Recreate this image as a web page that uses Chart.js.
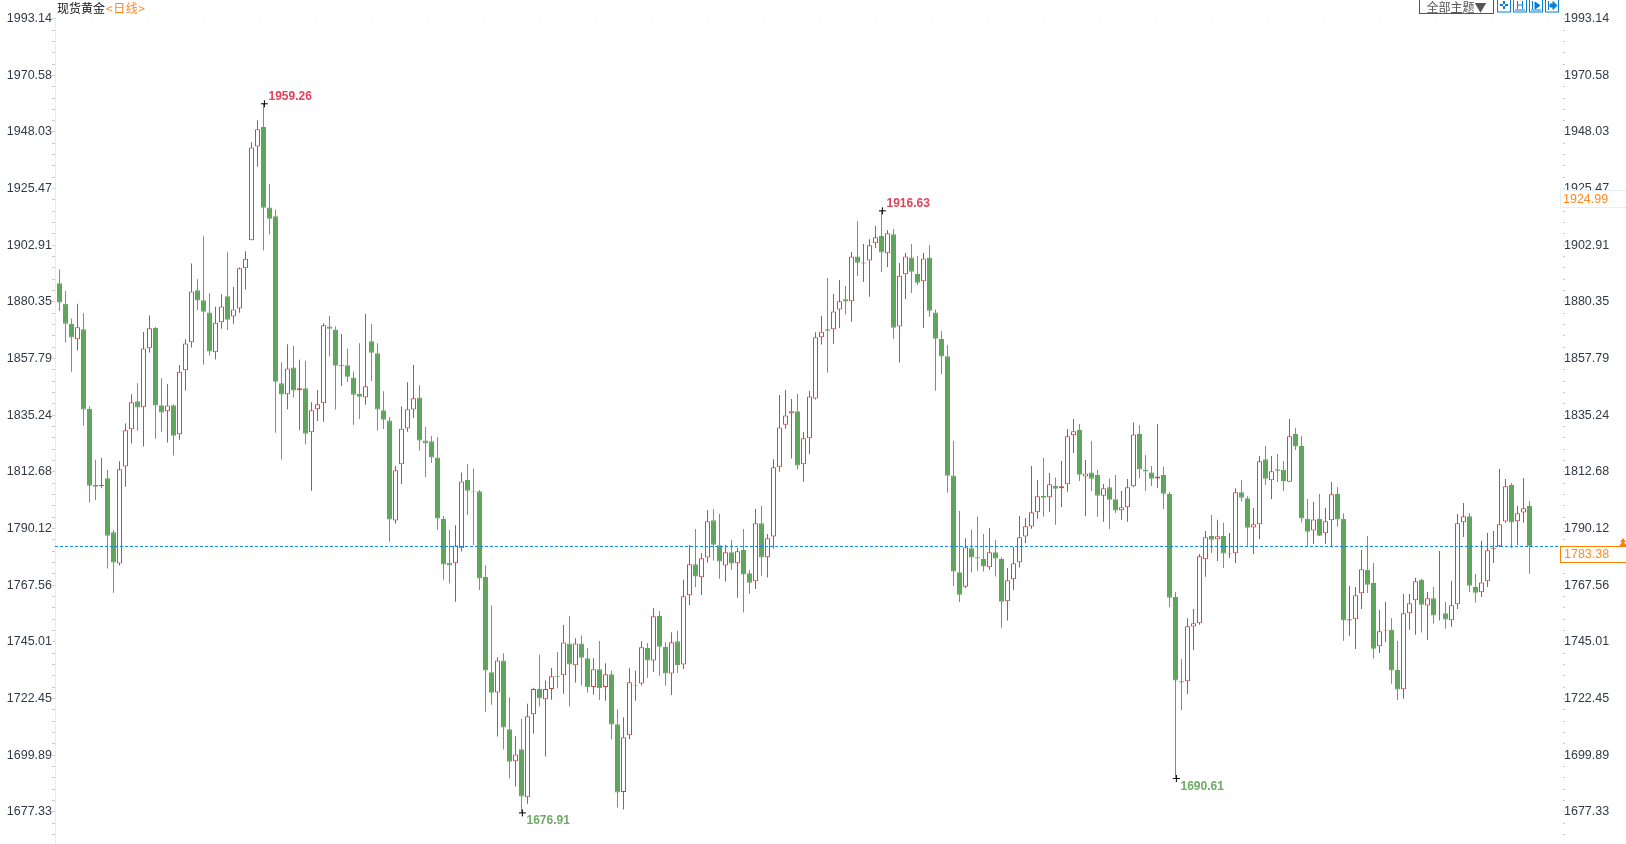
<!DOCTYPE html>
<html>
<head>
<meta charset="utf-8">
<title>现货黄金</title>
<script src="https://cdn.jsdelivr.net/npm/chart.js@4/dist/chart.umd.min.js"></script>
<style>
	body { margin: 0; background: #fff; overflow: hidden; }
	#wrap { position: relative; width: 1626px; height: 844px; overflow: hidden; }
	#title { position: absolute; left: 57px; top: 0; font: 12px/15px "Noto Sans CJK SC", sans-serif; color: #111; white-space: nowrap; }
	#title span { color: #ff8a1e; margin-left: 1px; letter-spacing: 0.5px; }
	#theme { position: absolute; left: 1419px; top: -3px; width: 73px; height: 15px; border: 1px solid #555; font: 12px/17px "Noto Sans CJK SC", sans-serif; color: #555; text-align: center; }
	.tool { position: absolute; top: -2px; }
</style>
</head>
<body>
<div id="wrap">
	<canvas id="chart" width="1626" height="844"></canvas>
	<div id="title">现货黄金<span>&lt;日线&gt;</span></div>
	<div id="theme">全部主题▼</div>
	<svg class="tool" style="left:1497px" width="14" height="15" fill="none" stroke="#0a7fd0"><rect x=".5" y=".5" width="13" height="13.5"/><path d="M7 3v3M7 8v3M3 7h3M8 7h3" stroke-width="2"/></svg>
	<svg class="tool" style="left:1513px" width="14" height="15" fill="none" stroke="#0a7fd0"><rect x=".5" y=".5" width="13" height="13.5"/><path d="M4.5 3v8M9.5 3v8M5 7h4M2 12h10"/></svg>
	<svg class="tool" style="left:1529px" width="14" height="15" fill="none" stroke="#0a7fd0"><rect x=".5" y=".5" width="13" height="13.5"/><path d="M3.5 3v8M2 12h10"/><path d="M6 4l5 3.500-5 3.500z" fill="#0a7fd0"/></svg>
	<svg class="tool" style="left:1545px" width="14" height="15" fill="none" stroke="#0a7fd0"><rect x=".5" y=".5" width="13" height="13.500"/><path d="M3.500 3v9"/><path d="M5 6h3V3.500L12 7.500 8 11.500V9H5z" fill="#0a7fd0"/></svg>
</div>
<script>
const tickLabels = ['1993.14', '1970.58', '1948.03', '1925.47', '1902.91', '1880.35', '1857.79', '1835.24', '1812.68', '1790.12', '1767.56', '1745.01', '1722.45', '1699.89', '1677.33'];

const opens = [
	1887.8, 1879.6, 1871.6, 1865.5, 1869.5, 1837.8, 1807.5, 1807.1, 1810.2, 1788.7,
	1776.2, 1814.8, 1829.7, 1840.8, 1838.4, 1861.9, 1870.0, 1839.2, 1836.8, 1839.2,
	1827.7, 1853.2, 1864.3, 1885.0, 1881.0, 1876.2, 1860.3, 1872.3, 1882.6, 1874.6,
	1877.8, 1893.8, 1904.9, 1942.3, 1950.0, 1918.0, 1914.5, 1848.0, 1843.6, 1854.3,
	1845.2, 1846.0, 1828.5, 1837.6, 1840.0, 1870.6, 1869.4, 1854.8, 1855.2, 1850.3,
	1843.7, 1842.3, 1864.7, 1859.9, 1837.2, 1833.2, 1793.3, 1815.7, 1830.0, 1837.5,
	1842.3, 1825.2, 1824.9, 1818.4, 1793.9, 1776.5, 1776.3, 1782.3, 1809.5, 1805.0,
	1805.0, 1770.9, 1732.9, 1724.9, 1737.6, 1710.2, 1697.5, 1702.3, 1683.1, 1716.2,
	1726.2, 1722.2, 1726.2, 1731.4, 1731.7, 1744.4, 1735.7, 1744.4, 1738.5, 1727.0,
	1734.1, 1727.0, 1732.1, 1712.2, 1685.2, 1707.8, 1727.6, 1728.4, 1742.6, 1737.6,
	1755.3, 1743.0, 1732.4, 1745.3, 1736.0, 1763.6, 1775.9, 1770.7, 1778.6, 1793.4,
	1783.5, 1775.4, 1780.7, 1776.3, 1781.6, 1772.3, 1769.1, 1792.2, 1778.7, 1787.0,
	1814.5, 1831.5, 1835.9, 1836.8, 1815.7, 1826.1, 1841.9, 1866.3, 1869.5, 1869.5,
	1877.4, 1881.4, 1880.6, 1898.5, 1895.7, 1896.9, 1903.7, 1906.6, 1899.7, 1907.3,
	1870.6, 1891.4, 1898.1, 1891.5, 1888.6, 1898.1, 1876.2, 1865.6, 1858.7, 1811.3,
	1772.7, 1767.0, 1782.3, 1778.7, 1778.0, 1774.7, 1780.7, 1778.0, 1761.2, 1769.9,
	1776.7, 1787.0, 1790.9, 1796.6, 1803.1, 1802.6, 1807.1, 1806.2, 1807.8, 1827.3,
	1829.4, 1810.9, 1812.5, 1811.5, 1803.2, 1806.6, 1801.8, 1797.4, 1798.6, 1807.0,
	1827.8, 1813.5, 1812.5, 1810.1, 1811.5, 1803.9, 1762.9, 1729.3, 1729.3, 1751.1,
	1752.4, 1777.9, 1787.2, 1785.9, 1787.2, 1780.2, 1780.3, 1804.6, 1802.2, 1790.6,
	1791.8, 1817.7, 1809.4, 1813.7, 1813.5, 1808.8, 1827.8, 1823.0, 1794.0, 1789.4,
	1794.0, 1788.3, 1793.4, 1803.9, 1794.0, 1753.5, 1754.0, 1764.4, 1773.7, 1768.5,
	1743.3, 1749.5, 1749.8, 1733.8, 1726.1, 1756.4, 1761.6, 1769.7, 1759.5, 1762.4,
	1756.4, 1756.4, 1753.6, 1760.0, 1792.6, 1795.0, 1766.9, 1764.8, 1769.1, 1781.9,
	1783.1, 1792.9, 1807.5, 1793.0, 1796.5, 1799.1
];

const closes = [
	1880.1, 1871.7, 1866.2, 1870.3, 1837.5, 1807.2, 1806.8, 1807.5, 1787.3, 1776.6,
	1813.7, 1829.3, 1840.4, 1838.3, 1861.8, 1869.9, 1839.1, 1836.3, 1839.1, 1827.1,
	1852.6, 1863.8, 1884.5, 1880.9, 1876.5, 1860.6, 1872.1, 1878.5, 1873.3, 1877.4,
	1893.8, 1897.6, 1941.9, 1949.1, 1917.9, 1913.5, 1848.6, 1843.5, 1853.9, 1845.1,
	1846.0, 1827.9, 1837.2, 1839.6, 1871.1, 1869.7, 1855.0, 1855.2, 1850.6, 1843.4,
	1842.6, 1846.8, 1860.1, 1837.5, 1833.5, 1793.7, 1813.3, 1829.9, 1837.6, 1842.0,
	1825.2, 1824.0, 1818.4, 1794.1, 1775.8, 1775.4, 1783.4, 1808.9, 1805.2, 1804.8,
	1770.2, 1733.6, 1724.8, 1737.6, 1710.9, 1697.3, 1700.2, 1683.4, 1715.4, 1726.2,
	1722.6, 1726.2, 1731.3, 1731.1, 1744.8, 1736.0, 1744.4, 1738.7, 1726.9, 1734.1,
	1726.5, 1732.1, 1712.1, 1685.0, 1707.0, 1728.9, 1727.8, 1742.9, 1737.6, 1755.2,
	1743.1, 1732.4, 1744.9, 1735.8, 1763.2, 1775.9, 1771.0, 1778.3, 1793.0, 1783.7,
	1777.0, 1780.7, 1776.2, 1781.1, 1771.8, 1768.6, 1792.2, 1778.6, 1786.3, 1814.5,
	1830.4, 1835.1, 1836.8, 1815.2, 1826.1, 1842.7, 1866.3, 1868.5, 1868.9, 1876.6,
	1880.6, 1880.5, 1898.5, 1896.0, 1896.1, 1902.9, 1906.1, 1900.0, 1907.7, 1870.1,
	1890.8, 1898.5, 1892.4, 1888.0, 1897.7, 1876.9, 1865.7, 1858.6, 1811.2, 1773.0,
	1763.8, 1782.7, 1778.6, 1778.2, 1775.0, 1780.7, 1778.2, 1761.0, 1769.5, 1776.3,
	1786.7, 1791.0, 1796.6, 1803.0, 1802.4, 1807.8, 1806.0, 1807.0, 1826.9, 1828.9,
	1811.6, 1812.1, 1810.0, 1803.2, 1806.2, 1801.6, 1797.3, 1798.6, 1806.6, 1827.6,
	1813.6, 1812.8, 1810.0, 1810.9, 1804.0, 1762.6, 1729.6, 1728.8, 1751.2, 1752.4,
	1779.1, 1786.7, 1785.7, 1787.1, 1780.2, 1780.4, 1804.6, 1802.4, 1790.5, 1791.8,
	1816.9, 1810.0, 1812.9, 1813.1, 1809.1, 1826.9, 1822.8, 1794.1, 1788.9, 1793.7,
	1787.3, 1793.0, 1803.8, 1793.7, 1753.5, 1754.0, 1763.6, 1773.9, 1767.8, 1742.3,
	1749.2, 1749.8, 1733.6, 1726.0, 1756.4, 1760.4, 1769.1, 1759.8, 1762.4, 1755.5,
	1756.5, 1753.9, 1759.6, 1792.2, 1795.0, 1767.4, 1764.6, 1768.7, 1781.5, 1782.3,
	1791.8, 1807.0, 1792.5, 1796.2, 1798.2, 1783.1
];

const highs = [
	1893.4, 1884.7, 1873.8, 1879.6, 1876.0, 1838.8, 1817.5, 1818.2, 1813.5, 1789.6,
	1816.9, 1832.0, 1843.6, 1848.0, 1868.4, 1875.0, 1870.4, 1850.0, 1847.7, 1839.6,
	1855.3, 1865.5, 1895.7, 1889.4, 1906.5, 1883.8, 1878.4, 1883.4, 1900.1, 1886.3,
	1894.1, 1900.5, 1943.9, 1952.7, 1959.26, 1927.3, 1917.2, 1856.3, 1863.5, 1862.8,
	1857.3, 1856.9, 1840.4, 1845.3, 1871.9, 1874.8, 1870.6, 1867.6, 1861.7, 1852.7,
	1863.9, 1875.6, 1871.6, 1863.9, 1844.8, 1834.5, 1815.1, 1838.7, 1848.4, 1855.3,
	1847.2, 1830.6, 1827.0, 1826.6, 1795.1, 1789.6, 1791.4, 1812.5, 1815.8, 1813.9,
	1805.5, 1775.5, 1759.6, 1738.9, 1740.5, 1723.0, 1707.4, 1714.3, 1720.4, 1726.7,
	1739.9, 1729.5, 1734.6, 1741.0, 1751.7, 1755.3, 1746.5, 1747.5, 1742.6, 1738.5,
	1745.4, 1736.5, 1733.5, 1718.2, 1715.0, 1734.5, 1733.5, 1745.3, 1744.6, 1758.4,
	1757.3, 1744.9, 1748.8, 1749.4, 1769.7, 1783.6, 1790.0, 1780.3, 1797.5, 1797.9,
	1796.0, 1783.6, 1785.6, 1782.4, 1790.0, 1773.6, 1797.9, 1799.1, 1788.0, 1817.7,
	1843.3, 1845.3, 1841.7, 1843.7, 1828.6, 1844.9, 1868.3, 1874.8, 1889.9, 1883.5,
	1889.1, 1886.7, 1900.2, 1912.6, 1903.4, 1905.3, 1910.6, 1916.63, 1909.0, 1909.4,
	1895.9, 1899.8, 1903.4, 1898.7, 1899.8, 1903.0, 1877.4, 1868.8, 1863.2, 1825.0,
	1797.1, 1786.3, 1789.8, 1794.8, 1788.0, 1790.4, 1785.6, 1778.7, 1774.4, 1782.8,
	1795.1, 1794.3, 1815.0, 1809.5, 1818.2, 1812.3, 1810.5, 1817.0, 1829.8, 1833.8,
	1831.8, 1817.4, 1825.0, 1813.5, 1807.9, 1810.1, 1811.5, 1805.1, 1809.9, 1832.4,
	1831.4, 1819.4, 1815.0, 1831.8, 1814.7, 1804.7, 1764.9, 1738.2, 1754.4, 1758.1,
	1780.0, 1789.2, 1795.5, 1793.6, 1792.4, 1788.4, 1806.2, 1809.5, 1803.0, 1798.3,
	1819.0, 1823.0, 1819.0, 1819.8, 1817.0, 1833.8, 1830.2, 1827.0, 1801.9, 1800.7,
	1803.9, 1798.3, 1808.7, 1806.7, 1796.2, 1767.3, 1766.9, 1781.6, 1787.2, 1776.4,
	1757.7, 1760.9, 1754.4, 1745.4, 1764.1, 1764.1, 1770.5, 1770.1, 1764.9, 1766.9,
	1781.2, 1760.9, 1769.3, 1795.9, 1800.3, 1796.3, 1772.1, 1785.2, 1788.4, 1789.2,
	1813.8, 1809.9, 1808.3, 1799.1, 1810.3, 1801.1
];

const lows = [
	1876.8, 1864.2, 1852.6, 1861.0, 1831.1, 1800.5, 1801.5, 1806.2, 1774.2, 1764.6,
	1775.4, 1806.8, 1824.0, 1829.1, 1822.8, 1860.2, 1825.9, 1828.7, 1824.4, 1819.2,
	1825.5, 1845.1, 1862.2, 1877.2, 1855.4, 1859.0, 1857.4, 1869.7, 1869.2, 1871.7,
	1876.1, 1885.3, 1904.9, 1934.2, 1900.8, 1907.2, 1828.3, 1817.6, 1837.6, 1842.3,
	1829.4, 1823.6, 1805.2, 1833.0, 1832.7, 1858.6, 1837.5, 1846.9, 1848.5, 1831.4,
	1833.8, 1839.4, 1848.9, 1829.3, 1829.8, 1784.9, 1792.1, 1807.9, 1828.7, 1834.2,
	1821.1, 1810.7, 1816.2, 1789.7, 1769.7, 1768.4, 1761.0, 1781.0, 1795.5, 1783.6,
	1765.7, 1717.2, 1720.0, 1707.3, 1702.2, 1690.6, 1687.4, 1676.91, 1680.6, 1708.5,
	1719.3, 1699.4, 1722.0, 1726.5, 1724.4, 1719.3, 1728.8, 1727.6, 1724.8, 1724.0,
	1721.9, 1721.6, 1706.2, 1679.1, 1678.3, 1706.2, 1721.6, 1727.6, 1730.7, 1733.1,
	1731.5, 1727.5, 1723.9, 1732.7, 1734.2, 1759.7, 1766.9, 1763.7, 1776.6, 1777.4,
	1770.1, 1769.0, 1773.7, 1762.6, 1756.7, 1764.2, 1766.1, 1771.3, 1770.6, 1782.1,
	1812.7, 1829.9, 1818.0, 1813.6, 1808.8, 1819.8, 1841.5, 1863.4, 1852.2, 1863.7,
	1870.0, 1875.3, 1872.5, 1890.7, 1888.3, 1882.4, 1901.8, 1892.3, 1894.3, 1865.6,
	1856.2, 1881.5, 1883.9, 1887.1, 1870.0, 1874.5, 1845.0, 1851.7, 1804.4, 1767.3,
	1760.9, 1766.5, 1772.6, 1773.3, 1773.0, 1773.7, 1771.0, 1750.6, 1753.5, 1765.7,
	1774.6, 1784.4, 1790.1, 1794.0, 1794.8, 1796.7, 1791.6, 1798.7, 1804.8, 1820.2,
	1809.1, 1795.1, 1805.1, 1794.8, 1792.8, 1790.0, 1796.3, 1793.6, 1792.8, 1806.6,
	1810.3, 1805.1, 1807.1, 1806.3, 1797.9, 1758.9, 1690.61, 1717.9, 1724.3, 1741.8,
	1751.8, 1770.9, 1780.4, 1777.2, 1774.4, 1778.4, 1776.4, 1800.9, 1783.1, 1780.0,
	1786.0, 1807.5, 1801.9, 1808.7, 1805.1, 1808.8, 1821.4, 1792.5, 1782.8, 1784.0,
	1787.2, 1784.0, 1782.7, 1790.8, 1745.5, 1747.4, 1742.2, 1758.1, 1764.5, 1738.3,
	1740.6, 1745.0, 1728.3, 1721.9, 1722.4, 1749.8, 1747.8, 1748.7, 1745.8, 1752.2,
	1753.5, 1750.2, 1751.0, 1758.1, 1786.8, 1764.9, 1760.6, 1762.9, 1766.9, 1776.4,
	1782.8, 1792.4, 1782.4, 1783.6, 1792.4, 1772.1
];

const peakIndex = [34, 137, 77, 186];
const peakValue = [1959.26, 1916.63, 1676.91, 1690.61];
const lastPrice = 1783.38;
const lastLine = 1783.0; // where the dashed line actually sits against the axis
const markPrice = 1924.99;

const UP = '#d8423f';
const DOWN = '#60a55c';
const isUp = (i) => closes[i] >= opens[i];
const xMin = -0.75;
const xMax = 250.4167;

// major labels plus four small unlabeled ticks in every gap
const axisTicks = [];
tickLabels.forEach((label, i) => {
	const value = Number(label);
	const step = i < tickLabels.length - 1 ? (value - Number(tickLabels[i + 1])) / 5 : 22.56 / 5;
	const count = i < tickLabels.length - 1 ? 4 : 2;
	axisTicks.push({ value: value });
	for (let k = 1; k <= count; k++) axisTicks.push({ value: value - step * k });
});

const yAxis = (position, width, borderColor, padding) => ({
	position: position,
	min: 1664.53,
	max: 1993.14,
	border: { display: true, color: borderColor, width: 1 },
	grid: {
		drawOnChartArea: false,
		drawTicks: true,
		tickLength: 3,
		tickColor: (ctx) => (tickLabels.includes(ctx.tick.value.toFixed(2)) ? '#c4d3e4' : '#c9c9c9'),
	},
	ticks: {
		autoSkip: false,
		padding: padding,
		color: '#333a45',
		font: { family: '"Liberation Sans", Arial, sans-serif', size: 12.5 },
		callback: (value) => (tickLabels.includes(value.toFixed(2)) ? value.toFixed(2) : ''),
	},
	afterBuildTicks: (scale) => {
		scale.ticks = axisTicks.map((t) => ({ value: t.value }));
	},
	afterFit: (scale) => {
		scale.width = width;
		scale.paddingTop = 0;
		scale.paddingBottom = 0;
	},
});

const priceLabels = {
	id: 'priceLabels',
	afterDraw(chart) {
		const { ctx, scales } = chart;
		const y = scales.y;
		const x = scales.x;
		ctx.save();
		ctx.textBaseline = 'middle';

		// high and low labels next to the crosses
		ctx.font = 'bold 12px "Liberation Sans", Arial, sans-serif';
		peakValue.forEach((value, i) => {
			const above = i < 2;
			ctx.fillStyle = above ? '#e2425a' : '#6fab68';
			const px = x.getPixelForValue(peakIndex[i]) + 5;
			const py = y.getPixelForValue(value) + (above ? -7 : 8);
			ctx.fillText(value.toFixed(2), px, py);
		});

		// boxes on the right axis hang below their price
		ctx.font = '12.5px "Liberation Sans", Arial, sans-serif';
		const boxLeft = 1560;
		const mark = Math.round(y.getPixelForValue(markPrice));
		ctx.fillStyle = '#fff';
		ctx.fillRect(boxLeft, mark, 70, 18);
		ctx.strokeStyle = '#e6edf5';
		ctx.strokeRect(boxLeft + 0.5, mark + 0.5, 70, 17);
		ctx.fillStyle = '#ff8a1e';
		ctx.fillText(markPrice.toFixed(2), 1563, mark + 9.5);

		const last = Math.floor(y.getPixelForValue(lastLine));
		ctx.fillStyle = '#fff';
		ctx.fillRect(boxLeft, last, 70, 17);
		ctx.strokeStyle = '#ff8000';
		ctx.strokeRect(boxLeft + 0.5, last + 0.5, 70, 16);
		ctx.fillStyle = '#ff8a1e';
		ctx.fillText(lastPrice.toFixed(2), 1564, last + 9);

		// small arrow above the last price box
		ctx.fillStyle = '#ff8000';
		ctx.beginPath();
		ctx.moveTo(1623, last - 8);
		ctx.lineTo(1626, last - 4);
		ctx.lineTo(1620, last - 4);
		ctx.closePath();
		ctx.moveTo(1623, last - 5);
		ctx.lineTo(1627, last);
		ctx.lineTo(1619, last);
		ctx.closePath();
		ctx.fill();
		ctx.restore();
	},
};

new Chart(document.getElementById('chart'), {
	type: 'bar',
	data: {
		datasets: [
			{
				type: 'line',
				order: 0,
				data: [{ x: xMin, y: lastLine }, { x: xMax, y: lastLine }],
				borderColor: '#0a84ff',
				borderWidth: 1,
				borderDash: [3, 2],
				pointRadius: 0,
			},
			{
				type: 'line',
				order: 4,
				data: [{ x: xMin, y: 1993.14 }, { x: xMax, y: 1993.14 }],
				borderColor: '#ececec',
				borderWidth: 1,
				borderDash: [4, 3],
				pointRadius: 0,
			},
			{
				type: 'scatter',
				order: 1,
				data: peakIndex.map((x, i) => ({ x: x + 0.15, y: peakValue[i] })),
				pointStyle: 'cross',
				pointRadius: 3.5,
				borderColor: '#000',
				borderWidth: 1,
			},
			{
				order: 2,
				grouped: false,
				data: opens.map((open, i) => ({ x: i, y: [open, closes[i]] })),
				barThickness: 5,
				inflateAmount: 0,
				borderWidth: 1,
				borderSkipped: false,
				borderColor: opens.map((_, i) => (isUp(i) ? UP : DOWN)),
				backgroundColor: opens.map((_, i) => (isUp(i) ? '#fff' : DOWN)),
			},
			{
				order: 3,
				grouped: false,
				data: lows.map((low, i) => ({ x: i, y: [low, highs[i]] })),
				barThickness: 1,
				inflateAmount: 0,
				borderWidth: 0,
				backgroundColor: lows.map((_, i) => (isUp(i) ? UP : DOWN)),
			},
		],
	},
	options: {
		responsive: false,
		animation: false,
		layout: { autoPadding: false, padding: { top: 18.7, left: 0, right: 0, bottom: 0 } },
		plugins: { legend: { display: false }, tooltip: { enabled: false } },
		scales: {
			x: { type: 'linear', display: false, offset: false, min: xMin, max: xMax },
			y: yAxis('left', 55, '#e8ecf2', 0),
			yRight: yAxis('right', 64, 'transparent', -1),
		},
	},
	plugins: [priceLabels],
});
</script>
</body>
</html>
